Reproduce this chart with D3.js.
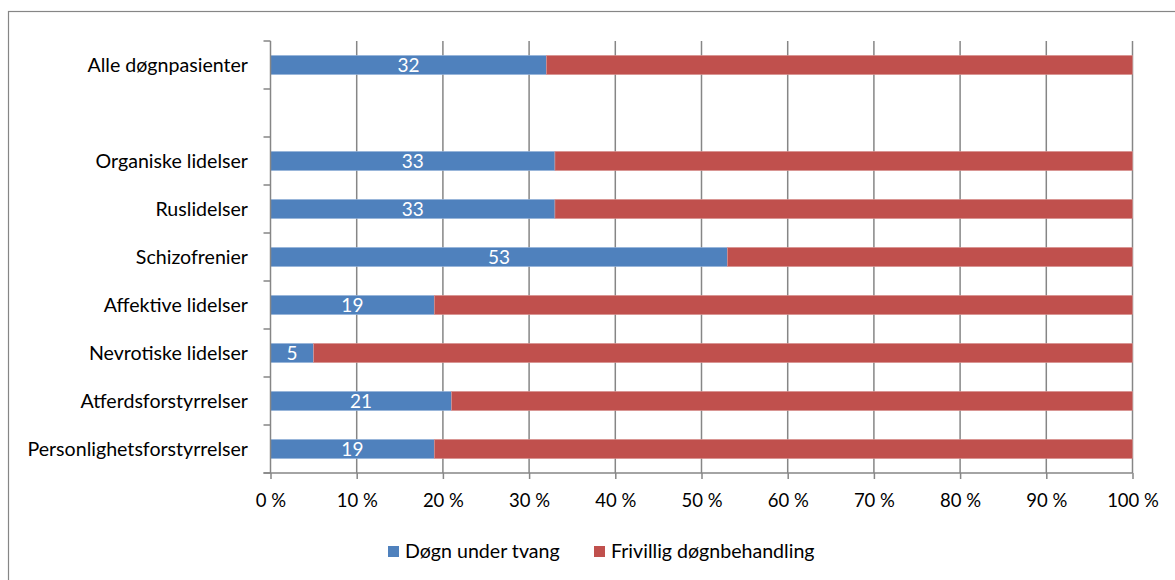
<!DOCTYPE html>
<html>
<head>
<meta charset="utf-8">
<script src="https://cdn.jsdelivr.net/npm/d3@7"></script>
<style>
  body { margin: 0; background: #fff; }
  svg { display: block; }
  text { font-family: Lato, "Open Sans", sans-serif; }
</style>
</head>
<body>
<svg id="chart" width="1175" height="580"></svg>
<script>
// Share of inpatients under compulsory care vs voluntary, by diagnosis group (%)
const categories = [
  "Alle døgnpasienter",
  "",
  "Organiske lidelser",
  "Ruslidelser",
  "Schizofrenier",
  "Affektive lidelser",
  "Nevrotiske lidelser",
  "Atferdsforstyrrelser",
  "Personlighetsforstyrrelser"
];
const tvang =     [32, null, 33, 33, 53, 19, 5, 21, 19];
const frivillig = [68, null, 67, 67, 47, 81, 95, 79, 81];
const seriesNames = ["Døgn under tvang", "Frivillig døgnbehandling"];
const seriesColors = ["#4F81BD", "#C0504D"];
const xTicks = [0, 10, 20, 30, 40, 50, 60, 70, 80, 90, 100];

const svg = d3.select("#chart");
const margin = { left: 270.5, right: 1132.5, top: 41, bottom: 473 };

// outer frame
svg.append("rect")
  .attr("x", 8.5).attr("y", 11.5)
  .attr("width", 1180).attr("height", 600)
  .attr("fill", "none").attr("stroke", "#868686").attr("stroke-width", 1.2);

const x = d3.scaleLinear().domain([0, 100]).range([margin.left, margin.right]);
const y = d3.scaleBand()
  .domain(categories.map((c, i) => i))
  .range([margin.top, margin.bottom])
  .paddingInner(0.6).paddingOuter(0.3);

const g = svg.append("g");

// vertical gridlines
g.selectAll("line.grid")
  .data(xTicks.slice(1))
  .join("line")
  .attr("class", "grid")
  .attr("x1", d => x(d)).attr("x2", d => x(d))
  .attr("y1", margin.top).attr("y2", margin.bottom)
  .attr("stroke", "#868686").attr("stroke-width", 1.5);

// stacked bars
const rows = categories.map((c, i) => ({ i, c, a: tvang[i], b: frivillig[i] }))
  .filter(d => d.a != null);

const bh = y.bandwidth();
g.selectAll("rect.tvang")
  .data(rows)
  .join("rect")
  .attr("x", x(0)).attr("y", d => y(d.i))
  .attr("width", d => x(d.a) - x(0)).attr("height", bh)
  .attr("fill", seriesColors[0])
  .attr("stroke", "#9db8dc").attr("stroke-width", 0.6);

g.selectAll("rect.friv")
  .data(rows)
  .join("rect")
  .attr("x", d => x(d.a)).attr("y", d => y(d.i))
  .attr("width", d => x(d.a + d.b) - x(d.a)).attr("height", bh)
  .attr("fill", seriesColors[1])
  .attr("stroke", "#d99795").attr("stroke-width", 0.6);

// value labels
g.selectAll("text.val")
  .data(rows)
  .join("text")
  .attr("x", d => (x(0) + x(d.a)) / 2)
  .attr("y", d => y(d.i) + bh / 2)
  .attr("dy", "0.36em")
  .attr("text-anchor", "middle")
  .attr("fill", "#fff")
  .attr("font-size", 19)
  .text(d => d.a);

// x axis
const xAxis = d3.axisBottom(x)
  .tickValues(xTicks)
  .tickSize(6)
  .tickFormat(d => d + " %");
const xa = svg.append("g")
  .attr("transform", `translate(0,${margin.bottom})`)
  .call(xAxis);
xa.select(".domain").attr("stroke", "#868686").attr("stroke-width", 1.5)
  .attr("d", `M${margin.left - 7},0H${margin.right}`);
xa.selectAll(".tick line").attr("stroke", "#868686").attr("stroke-width", 1.5);
xa.selectAll(".tick text")
  .attr("font-size", 18.5).attr("fill", "#000")
  .attr("font-family", "Lato, sans-serif")
  .attr("dy", "1.33em");

// y axis: line plus tick marks at band boundaries
const step = y.step();
const bounds = d3.range(categories.length + 1).map(k => margin.top + k * step);
svg.append("line")
  .attr("x1", margin.left).attr("x2", margin.left)
  .attr("y1", margin.top).attr("y2", margin.bottom)
  .attr("stroke", "#868686").attr("stroke-width", 1.5);
svg.selectAll("line.ytick")
  .data(bounds)
  .join("line")
  .attr("class", "ytick")
  .attr("x1", margin.left - 7).attr("x2", margin.left)
  .attr("y1", d => d).attr("y2", d => d)
  .attr("stroke", "#868686").attr("stroke-width", 1.5);

// category labels
svg.selectAll("text.cat")
  .data(categories.map((c, i) => ({ c, i })).filter(d => d.c))
  .join("text")
  .attr("x", 248)
  .attr("y", d => y(d.i) + bh / 2)
  .attr("dy", "0.36em")
  .attr("text-anchor", "end")
  .attr("font-size", 19.6)
  .attr("fill", "#000")
  .text(d => d.c);

// legend
const legendX = [388, 594];
const lg = svg.selectAll("g.leg")
  .data(seriesNames)
  .join("g")
  .attr("transform", (d, i) => `translate(${legendX[i]},546)`);
lg.append("rect")
  .attr("width", 11).attr("height", 11)
  .attr("fill", (d, i) => seriesColors[i]);
lg.append("text")
  .attr("x", 17).attr("y", 4.5).attr("dy", "0.36em")
  .attr("font-size", 19.6).attr("fill", "#000")
  .text(d => d);
</script>
</body>
</html>
